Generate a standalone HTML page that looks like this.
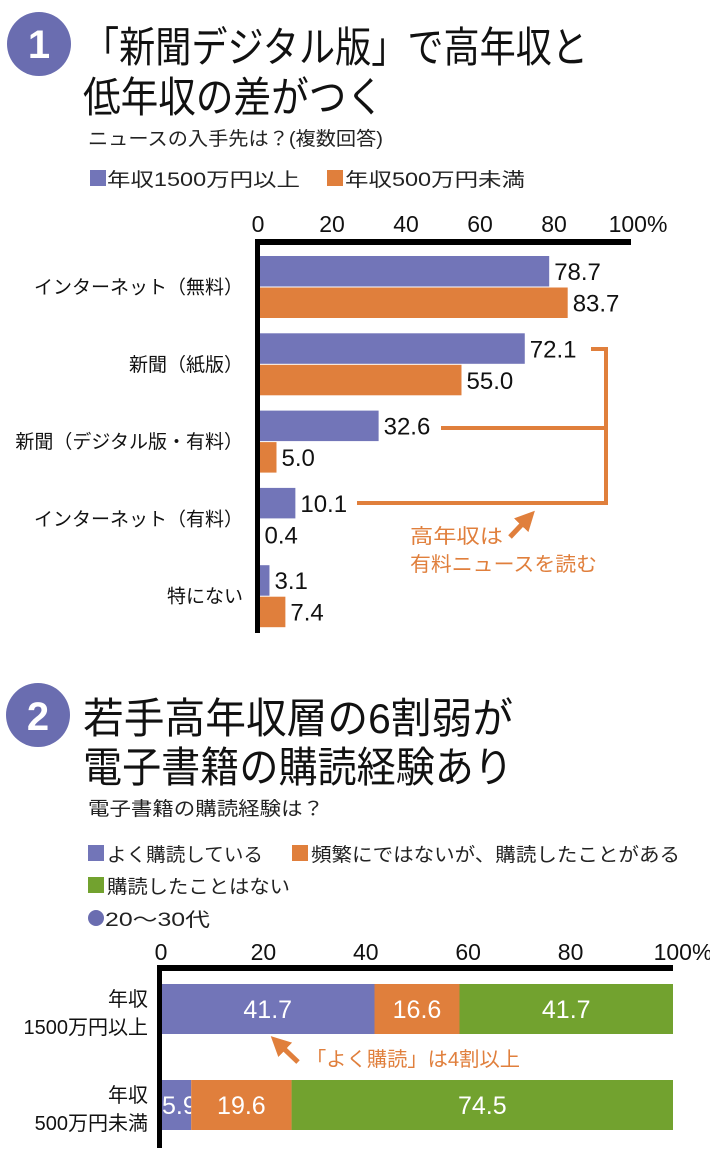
<!DOCTYPE html>
<html><head><meta charset="utf-8">
<style>
html,body{margin:0;padding:0;background:#fff;}
svg{display:block;font-family:"Liberation Sans","Noto Sans CJK JP",sans-serif;}
</style></head>
<body>
<svg id="s" width="710" height="1161" viewBox="0 0 710 1161" xmlns="http://www.w3.org/2000/svg">
  <defs>
    <marker id="ah" viewBox="0 0 10 10" refX="5" refY="5" markerWidth="4" markerHeight="4" orient="auto">
      <path d="M0,0 L10,5 L0,10 z" fill="#e07f3c"/>
    </marker>
  </defs>
  <circle cx="39" cy="44" r="32" fill="#6a6db0"/>
  <text x="39" y="58" text-anchor="middle" font-size="40" font-weight="bold" fill="#fff">1</text>
  <text x="83" y="62" font-size="42" textLength="505" lengthAdjust="spacingAndGlyphs" fill="#111">「新聞デジタル版」で高年収と</text>
  <text x="83" y="112" font-size="42" textLength="301" lengthAdjust="spacingAndGlyphs" fill="#111">低年収の差がつく</text>
  <text x="88" y="145" font-size="19" textLength="295" lengthAdjust="spacingAndGlyphs" fill="#222">ニュースの入手先は？(複数回答)</text>
  <rect x="90" y="170" width="16" height="16" fill="#7275b8"/>
  <text x="107" y="186" font-size="19" textLength="193" lengthAdjust="spacingAndGlyphs" fill="#222">年収1500万円以上</text>
  <rect x="327" y="170" width="16" height="16" fill="#e07f3c"/>
  <text x="345" y="186" font-size="19" textLength="180" lengthAdjust="spacingAndGlyphs" fill="#222">年収500万円未満</text>
  <g id="c1"></g>
  <g fill="none" stroke="#e07f3c" stroke-width="4">
    <polyline points="591,349 606,349 606,503 357,503"/>
    <line x1="441" y1="428" x2="606" y2="428"/>
  </g>
  <line x1="510" y1="537" x2="528" y2="518" stroke="#e07f3c" stroke-width="5" marker-end="url(#ah)"/>
  <text x="410" y="543" font-size="20" fill="#e07f3c" textLength="93" lengthAdjust="spacingAndGlyphs">高年収は</text>
  <text x="410" y="571" font-size="20" fill="#e07f3c" textLength="187" lengthAdjust="spacingAndGlyphs">有料ニュースを読む</text>

  <circle cx="38" cy="715" r="32" fill="#6a6db0"/>
  <text x="38" y="730" text-anchor="middle" font-size="40" font-weight="bold" fill="#fff">2</text>
  <text x="83" y="733" font-size="42" textLength="430" lengthAdjust="spacingAndGlyphs" fill="#111">若手高年収層の6割弱が</text>
  <text x="83" y="782" font-size="42" textLength="430" lengthAdjust="spacingAndGlyphs" fill="#111">電子書籍の購読経験あり</text>
  <text x="88" y="815" font-size="19" textLength="236" lengthAdjust="spacingAndGlyphs" fill="#222">電子書籍の購読経験は？</text>
  <rect x="88" y="845" width="16" height="16" fill="#7275b8"/>
  <text x="107" y="861" font-size="19" textLength="156" lengthAdjust="spacingAndGlyphs" fill="#222">よく購読している</text>
  <rect x="292" y="845" width="16" height="16" fill="#e07f3c"/>
  <text x="311" y="861" font-size="19" textLength="369" lengthAdjust="spacingAndGlyphs" fill="#222">頻繁にではないが、購読したことがある</text>
  <rect x="88" y="877" width="16" height="16" fill="#72a22f"/>
  <text x="107" y="893" font-size="19" textLength="183" lengthAdjust="spacingAndGlyphs" fill="#222">購読したことはない</text>
  <circle cx="96" cy="918" r="8" fill="#6a6db0"/>
  <text x="105" y="926" font-size="19" textLength="105" lengthAdjust="spacingAndGlyphs" fill="#222">20～30代</text>
  <g id="c2"></g>
  <line x1="298" y1="1062" x2="278" y2="1043" stroke="#e07f3c" stroke-width="5" marker-end="url(#ah)"/>
  <text x="306" y="1066" font-size="20" fill="#e07f3c" textLength="214" lengthAdjust="spacingAndGlyphs">「よく購読」は4割以上</text>
</svg>
<script>
const cats1 = ["インターネット（無料）","新聞（紙版）","新聞（デジタル版・有料）","インターネット（有料）","特にない"];
const high1 = [78.7, 72.1, 32.6, 10.1, 3.1];
const low1 = [83.7, 55.0, 5.0, 0.4, 7.4];
const ticks1 = [0, 20, 40, 60, 80, 100];
const rows2 = [["年収","1500万円以上"],["年収","500万円未満"]];
const often2 = [41.7, 5.9];
const some2 = [16.6, 19.6];
const never2 = [41.7, 74.5];
const ticks2 = [0, 20, 40, 60, 80, 100];

const NS = "http://www.w3.org/2000/svg";
function mk(parent, tag, attrs, text){
  const e = document.createElementNS(NS, tag);
  for (const k in attrs) e.setAttribute(k, attrs[k]);
  if (text !== undefined) e.textContent = text;
  parent.appendChild(e);
  return e;
}
(function(){
  const g = document.getElementById('c1');
  const x = v => 258 + v * 3.70;
  const y0 = 256, pitch = 77.3, bh = 30.5;
  ticks1.forEach((t,i) => {
    const e = mk(g, 'text', {x: x(t) + (t===100?10:0), y: 232, 'font-size': 23, 'text-anchor': 'middle', fill: '#111'}, t + (t===100?'%':''));
    
    
  });
  cats1.forEach((c,i) => {
    const top = y0 + i * pitch;
    const b1 = mk(g, 'rect', {x: x(0), y: top, width: high1[i]*3.70, height: bh, fill: '#7275b8'});
    
    
    const b2 = mk(g, 'rect', {x: x(0), y: top + bh + 1, width: low1[i]*3.70, height: bh, fill: '#e07f3c'});
    
    
    const l1 = mk(g, 'text', {x: x(high1[i]) + 5, y: top + 24, 'font-size': 24, fill: '#111'}, high1[i].toFixed(1));
    
    
    const l2 = mk(g, 'text', {x: x(low1[i]) + 5, y: top + bh + 25, 'font-size': 24, fill: '#111'}, low1[i].toFixed(1));
    
    
    const cl = mk(g, 'text', {x: 243, y: top + bh + 7, 'font-size': 19, 'text-anchor': 'end', fill: '#111'}, c);
    
    
  });
  const ax = mk(g, 'rect', {x: 255, y: 239, width: 376, height: 6, fill: '#000'});
  
  
  const ay = mk(g, 'rect', {x: 255, y: 239, width: 5, height: 394, fill: '#000'});
  
  
})();
(function(){
  const g = document.getElementById('c2');
  const sc = 5.12;
  const x = v => 161 + v * sc;
  ticks2.forEach(t => {
    const e = mk(g, 'text', {x: x(t) + (t===100?10:0), y: 960, 'font-size': 23, 'text-anchor': 'middle', fill: '#111'}, t + (t===100?'%':''));
    
    
  });
  const tops = [984, 1080], bh = 50;
  rows2.forEach((r,i) => {
    const segs = [[often2[i], '#7275b8', 'often'], [some2[i], '#e07f3c', 'sometimes'], [never2[i], '#72a22f', 'never']];
    let acc = 0;
    segs.forEach(s => {
      const rc = mk(g, 'rect', {x: x(acc), y: tops[i], width: s[0]*sc, height: bh, fill: s[1]});
      
      
      const cx = s[0] < 8 ? x(acc) + 1 : x(acc + s[0]/2);
      const tx = mk(g, 'text', {x: cx, y: tops[i] + 34, 'font-size': 25, 'text-anchor': s[0] < 8 ? 'start' : 'middle', fill: '#fff'}, s[0].toFixed(1));
      
      
      acc += s[0];
    });
    const a = mk(g, 'text', {x: 148, y: tops[i] + 22, 'font-size': 20, 'text-anchor': 'end', fill: '#111'}, r[0]);
    
    
    const b = mk(g, 'text', {x: 148, y: tops[i] + 50, 'font-size': 20, 'text-anchor': 'end', fill: '#111'}, r[1]);
    
    
  });
  const ax = mk(g, 'rect', {x: 158, y: 965, width: 515, height: 6, fill: '#000'});
  
  
  const ay = mk(g, 'rect', {x: 157, y: 965, width: 5, height: 183, fill: '#000'});
  
  
})();
</script>
</body></html>
